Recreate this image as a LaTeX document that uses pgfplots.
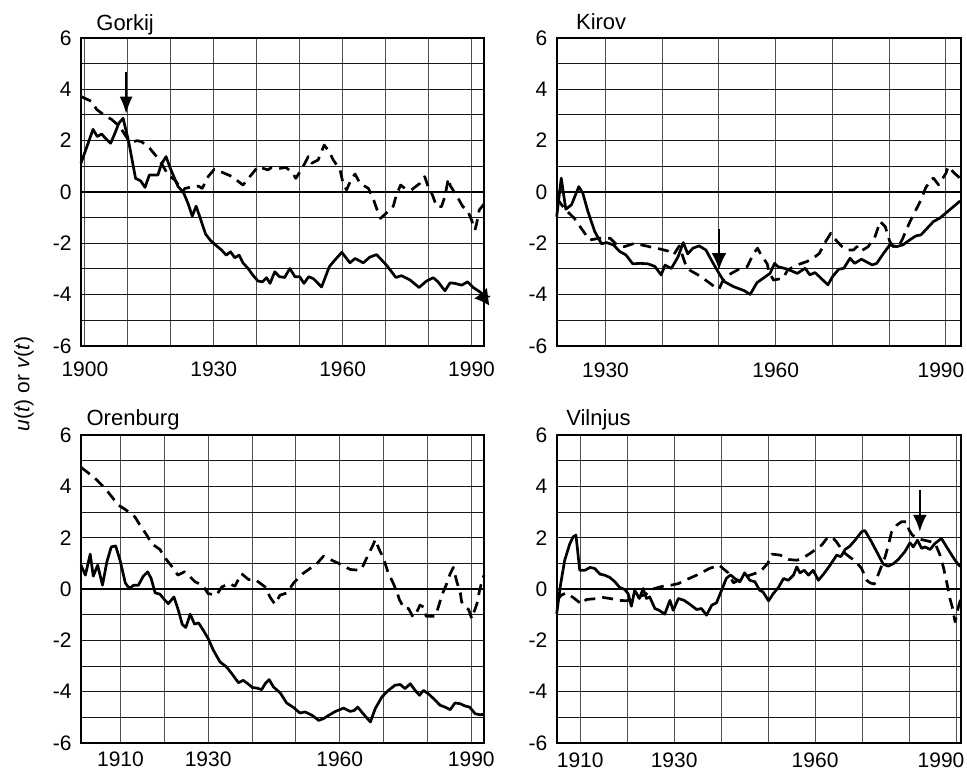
\documentclass[border=0pt]{standalone}
\usepackage{fontspec}
\setmainfont{Liberation Sans}
\usepackage{pgfplots}
\pgfplotsset{compat=1.18}
\usetikzlibrary{arrows.meta}

\tikzset{
  ttl/.style={anchor=base west, inner sep=0pt, font=\fontsize{11}{13}\selectfont},
  sol/.style={black, line width=1.35pt, line join=round},
  das/.style={black, line width=1.35pt, line join=round, dash pattern=on 5.5pt off 3.5pt},
  zero/.style={black, line width=1pt},
  arr/.style={black, line width=1pt, -{Latex[length=8.5pt,width=6.5pt]}},
}
\pgfplotsset{
  panel/.style={
    scale only axis, width=202pt, height=154pt,
    anchor=south west,
    ymin=-6, ymax=6,
    ytick={-6,-4,...,6},
    minor ytick={-5,-3,...,5},
    grid=both,
    x grid style={black!68, line width=0.5pt},
    y grid style={black!90, line width=0.5pt},
    major tick length=0pt, minor tick length=0pt,
    axis line style={black, line width=1.1pt},
    tick label style={font=\fontsize{10.5}{12}\selectfont},
    /pgf/number format/assume math mode=true,
    yticklabel style={xshift=-1.2pt},
    clip=false,
  },
}

\begin{document}
\begin{tikzpicture}
\path[use as bounding box] (0,0) rectangle (483.5pt,387pt);

% ---------------- Gorkij ----------------
\begin{axis}[panel, at={(40.5pt,214pt)}, width=201.5pt,
  xmin=1899.1, xmax=1992.9,
  xtick={1900,1930,1960,1990}, xticklabels={1900,1930,1960,1990},
  minor xtick={1910,1920,1940,1950,1970,1980},
  xticklabel style={yshift=-4.5pt}]
\addplot[zero, forget plot] coordinates {(1899.1,0) (1992.9,0)};
\addplot[das] coordinates {
(1899.1,3.72) (1901.7,3.52) (1902.7,3.22) (1904.8,2.96) (1906.2,2.83) (1908.1,2.55)
(1910.1,2.03) (1911.2,1.96) (1912.2,2.00) (1913.2,1.96) (1915.1,1.70) (1916.7,1.38)
(1917.8,1.12) (1919.4,0.66) (1920.9,0.47) (1922.1,0.21) (1922.6,0.00) (1923.3,0.14)
(1925.2,0.21) (1926.4,0.23) (1927.3,0.14) (1928.7,0.60) (1930.1,0.88) (1932.2,0.75)
(1934.3,0.60) (1936.8,0.27) (1938.7,0.66) (1940.3,0.99) (1942.6,0.86) (1943.4,0.95)
(1945.4,0.92) (1946.8,0.96) (1948.4,0.73) (1949.1,0.53) (1950.8,0.99) (1952.0,1.38)
(1952.8,1.12) (1954.3,1.25) (1955.7,1.83) (1956.9,1.57) (1957.8,1.25) (1959.4,0.86)
(1960.1,0.34) (1960.9,0.08) (1962.1,0.53) (1962.9,0.70) (1964.0,0.34) (1966.0,0.14)
(1967.1,-0.25) (1967.9,-0.64) (1968.8,-1.03) (1970.1,-0.83) (1971.8,-0.55) (1972.5,-0.12)
(1973.5,0.27) (1974.5,0.14) (1976.0,0.08) (1978.0,0.34) (1979.1,0.60) (1979.9,0.21)
(1980.9,-0.12) (1981.9,-0.57) (1983.0,-0.57) (1983.8,-0.18) (1984.6,0.53) (1985.1,0.23)
(1985.7,0.08) (1986.5,-0.18) (1987.1,-0.31) (1987.9,-0.55) (1989.2,-0.77) (1990.0,-1.09)
(1990.8,-1.48) (1991.2,-1.22) (1991.8,-0.70) (1992.9,-0.47)};
\addplot[sol] coordinates {
(1899.1,1.12) (1901.9,2.44) (1902.9,2.16) (1903.9,2.26) (1904.8,2.09) (1906.0,1.90)
(1907.0,2.29) (1907.9,2.68) (1908.9,2.87) (1910.2,1.96) (1911.8,0.53) (1913.0,0.43)
(1914.0,0.18) (1915.0,0.66) (1916.0,0.66) (1917.0,0.66) (1917.8,1.08) (1918.9,1.38)
(1919.8,0.96) (1920.7,0.60) (1921.7,0.21) (1922.9,0.00) (1924.0,-0.44) (1925.0,-0.94)
(1925.9,-0.55) (1927.0,-1.09) (1928.1,-1.64) (1929.3,-1.90) (1930.6,-2.09) (1931.8,-2.26)
(1932.9,-2.46) (1933.9,-2.33) (1934.9,-2.56) (1935.9,-2.46) (1936.8,-2.76) (1938.0,-2.98)
(1939.1,-3.24) (1940.3,-3.47) (1941.3,-3.50) (1942.3,-3.34) (1943.1,-3.56) (1944.2,-3.11)
(1945.3,-3.30) (1946.5,-3.33) (1947.7,-2.98) (1948.9,-3.30) (1950.0,-3.30) (1951.0,-3.56)
(1952.1,-3.30) (1953.2,-3.38) (1955.1,-3.70) (1956.9,-2.91) (1958.2,-2.65) (1959.8,-2.35)
(1961.7,-2.76) (1962.9,-2.59) (1964.8,-2.76) (1966.3,-2.54) (1967.9,-2.44) (1970.2,-2.85)
(1972.4,-3.33) (1973.7,-3.26) (1975.7,-3.43) (1977.8,-3.72) (1979.5,-3.47) (1981.1,-3.34)
(1982.2,-3.50) (1983.8,-3.85) (1985.0,-3.54) (1986.1,-3.56) (1987.7,-3.63) (1989.1,-3.50)
(1990.4,-3.72) (1991.9,-3.89) (1992.9,-4.02)};
\addplot[arr] coordinates {(1909.6,4.69) (1909.6,3.05)};
\addplot[black, line width=0.8pt, -{Latex[length=7pt,width=9pt]}] coordinates {(1994.3,-4.07) (1990.6,-4.15)};
\node[ttl, xshift=7.5pt, yshift=4pt] at (rel axis cs:0,1) {Gorkij};
\end{axis}

% ---------------- Kirov ----------------
\begin{axis}[panel, at={(278.35pt,214pt)},
  xmin=1921.4, xmax=1992.6,
  xtick={1930,1960,1990}, xticklabels={1930,1960,\hspace*{-5pt}1990},
  minor xtick={1940,1950,1970,1980},
  xticklabel style={yshift=-5pt}]
\addplot[zero, forget plot] coordinates {(1921.4,0) (1992.6,0)};
\addplot[das] coordinates {
(1921.4,-0.24) (1922.7,-0.63) (1923.6,-0.83) (1924.5,-1.02) (1925.7,-1.41) (1927.2,-1.87)
(1929.0,-1.80) (1930.8,-1.80) (1932.0,-2.06) (1933.3,-2.13) (1935.1,-2.00) (1936.3,-2.06)
(1938.1,-2.15) (1939.8,-2.23) (1941.0,-2.30) (1942.0,-2.45) (1943.0,-2.10) (1944.0,-2.76)
(1944.8,-3.04) (1946.3,-3.23) (1948.0,-3.49) (1949.2,-3.69) (1950.0,-3.79) (1950.6,-3.49)
(1951.7,-3.23) (1953.8,-2.97) (1955.0,-2.90) (1956.1,-2.39) (1956.8,-2.19) (1957.4,-2.45)
(1958.5,-2.80) (1958.8,-3.10) (1959.6,-3.43) (1961.3,-3.36) (1962.1,-3.04) (1963.8,-2.84)
(1965.5,-2.71) (1966.6,-2.58) (1967.7,-2.39) (1968.6,-2.00) (1969.7,-1.61) (1970.3,-1.80)
(1971.7,-2.13) (1972.6,-2.26) (1973.7,-2.26) (1974.3,-2.13) (1974.9,-2.32) (1976.3,-2.13)
(1977.5,-1.74) (1978.4,-1.15) (1979.3,-1.35) (1980.1,-1.93) (1980.7,-2.13) (1981.8,-2.06)
(1982.4,-1.80) (1983.0,-1.48) (1983.8,-1.09) (1985.0,-0.57) (1985.6,-0.31) (1986.4,0.15)
(1987.3,0.47) (1987.8,0.54) (1988.7,0.28) (1990.0,0.73) (1990.4,0.99) (1991.5,0.73)
(1992.5,0.54)};
\addplot[sol] coordinates {
(1921.4,-0.96) (1922.2,0.54) (1923.0,-0.67) (1924.0,-0.50) (1925.3,0.21) (1926.0,-0.05)
(1926.9,-0.76) (1928.1,-1.54) (1929.3,-2.02) (1930.2,-1.97) (1931.4,-2.06) (1932.5,-2.32)
(1933.6,-2.45) (1934.8,-2.80) (1936.1,-2.78) (1937.5,-2.80) (1938.7,-2.90) (1939.8,-3.23)
(1940.5,-2.85) (1941.6,-2.98) (1942.8,-2.52) (1943.7,-1.97) (1944.5,-2.41) (1945.4,-2.19)
(1946.5,-2.10) (1947.7,-2.26) (1948.8,-2.71) (1950.0,-3.17) (1950.9,-3.49) (1952.6,-3.69)
(1954.4,-3.84) (1955.5,-3.99) (1956.7,-3.53) (1957.8,-3.36) (1959.0,-3.17) (1959.8,-2.78)
(1960.4,-2.91) (1962.1,-3.01) (1963.8,-3.17) (1965.2,-2.97) (1966.0,-3.23) (1966.9,-3.14)
(1967.7,-3.30) (1969.2,-3.62) (1970.0,-3.30) (1971.1,-3.01) (1972.0,-2.97) (1973.1,-2.58)
(1973.9,-2.78) (1975.1,-2.62) (1977.0,-2.84) (1977.8,-2.78) (1979.0,-2.39) (1980.1,-2.06)
(1981.3,-2.13) (1982.4,-2.06) (1983.6,-1.87) (1984.7,-1.71) (1985.6,-1.67) (1986.4,-1.48)
(1987.8,-1.15) (1988.9,-1.02) (1991.0,-0.63) (1992.5,-0.35)};
\addplot[arr, -{Latex[length=8.5pt,width=7.5pt]}] coordinates {(1950.0,-1.45) (1950.0,-3.04)};
\node[ttl, xshift=9.5pt, yshift=4.3pt] at (rel axis cs:0,1) {Kirov};
\end{axis}

% ---------------- Orenburg ----------------
\begin{axis}[panel, at={(40.5pt,15.5pt)}, width=201.5pt,
  xmin=1901, xmax=1992.9,
  xtick={1910,1930,1960,1990}, xticklabels={1910,1930,1960,1990},
  minor xtick={1920,1940,1950,1970,1980},
  xticklabel style={yshift=-1pt}]
\addplot[zero, forget plot] coordinates {(1901,0) (1992.9,0)};
\addplot[das] coordinates {
(1901.0,4.74) (1903.3,4.44) (1904.6,4.25) (1906.5,3.92) (1908.0,3.60) (1909.5,3.27)
(1911.1,3.10) (1913.3,2.81) (1914.3,2.53) (1916.0,2.10) (1917.1,1.77) (1919.0,1.54)
(1920.0,1.25) (1921.8,0.86) (1923.1,0.54) (1924.6,0.67) (1925.9,0.47) (1927.0,0.28)
(1928.7,0.15) (1930.0,-0.18) (1931.9,-0.24) (1933.1,0.08) (1934.8,0.21) (1936.1,0.11)
(1937.6,0.60) (1939.2,0.37) (1940.7,0.37) (1943.0,0.08) (1944.1,-0.31) (1945.2,-0.59)
(1946.4,-0.24) (1948.0,-0.15) (1949.5,0.24) (1951.6,0.60) (1952.9,0.76) (1954.8,0.99)
(1956.3,1.28) (1958.2,1.12) (1960.1,0.97) (1962.4,0.76) (1964.7,0.73) (1965.4,0.93)
(1966.6,1.38) (1967.6,1.71) (1968.1,1.93) (1968.9,1.58) (1970.0,1.19) (1971.1,0.60)
(1971.9,0.34) (1972.9,-0.05) (1973.6,-0.41) (1974.7,-0.76) (1975.7,-0.76) (1976.7,-1.09)
(1977.4,-0.96) (1978.3,-0.63) (1979.1,-0.70) (1979.7,-1.06) (1981.8,-1.06) (1982.5,-0.70)
(1983.3,-0.24) (1984.4,0.21) (1985.2,0.60) (1985.9,0.84) (1986.7,0.28) (1987.5,-0.15)
(1987.8,-0.50) (1988.6,-0.70) (1989.4,-0.80) (1990.1,-1.15) (1990.5,-0.96) (1991.3,-0.57)
(1991.9,-0.05) (1992.4,0.28) (1992.9,0.54)};
\addplot[sol] coordinates {
(1901.0,0.93) (1902.0,0.54) (1903.1,1.36) (1903.8,0.50) (1904.8,0.93) (1905.9,0.15)
(1906.9,1.06) (1907.9,1.64) (1908.9,1.68) (1909.9,1.12) (1911.1,0.24) (1912.0,0.02)
(1913.0,0.15) (1914.1,0.15) (1915.2,0.50) (1916.2,0.67) (1917.0,0.41) (1917.9,-0.15)
(1919.0,-0.20) (1920.0,-0.41) (1920.9,-0.57) (1922.2,-0.31) (1923.2,-0.83) (1924.1,-1.38)
(1924.9,-1.50) (1925.9,-0.98) (1926.9,-1.37) (1927.8,-1.32) (1928.9,-1.61) (1930.0,-1.93)
(1931.2,-2.39) (1932.7,-2.84) (1934.2,-3.04) (1935.4,-3.30) (1936.9,-3.65) (1938.0,-3.56)
(1939.2,-3.71) (1940.1,-3.84) (1941.1,-3.86) (1942.2,-3.92) (1943.0,-3.69) (1943.9,-3.53)
(1944.9,-3.82) (1946.4,-4.04) (1947.9,-4.44) (1949.5,-4.62) (1950.9,-4.83) (1952.1,-4.79)
(1953.7,-4.92) (1955.2,-5.12) (1956.3,-5.05) (1957.5,-4.92) (1959.0,-4.77) (1960.9,-4.64)
(1962.4,-4.77) (1963.3,-4.73) (1964.1,-4.60) (1965.3,-4.85) (1966.0,-4.99) (1967.0,-5.18)
(1968.1,-4.66) (1969.6,-4.21) (1971.1,-3.95) (1972.6,-3.75) (1973.8,-3.72) (1974.9,-3.88)
(1976.1,-3.69) (1977.2,-3.95) (1978.2,-4.14) (1979.1,-3.95) (1980.2,-4.08) (1981.4,-4.27)
(1982.9,-4.53) (1984.0,-4.60) (1985.2,-4.70) (1986.3,-4.44) (1987.5,-4.47) (1988.6,-4.56)
(1989.6,-4.60) (1990.9,-4.86) (1992.0,-4.90) (1992.9,-4.88)};
\node[ttl, xshift=2.6pt, yshift=5pt] at (rel axis cs:0,1) {Orenburg};
\end{axis}

% ---------------- Vilnjus ----------------
\begin{axis}[panel, at={(278.35pt,15.5pt)},
  xmin=1905, xmax=1991,
  xtick={1910,1930,1960,1990}, xticklabels={1910,1930,1960,\hspace*{-15pt}1990},
  minor xtick={1920,1940,1950,1970,1980},
  xticklabel style={yshift=-1.5pt}]
\addplot[zero, forget plot] coordinates {(1905,0) (1991,0)};
\addplot[das] coordinates {
(1905.0,-0.44) (1906.0,-0.24) (1907.0,-0.15) (1908.5,-0.33) (1910.3,-0.59) (1911.3,-0.41)
(1913.1,-0.38) (1914.9,-0.33) (1916.7,-0.38) (1918.1,-0.44) (1919.9,-0.46) (1922.0,-0.35)
(1924.0,-0.20) (1925.5,0.00) (1926.6,0.06) (1927.7,0.11) (1929.4,0.15) (1930.9,0.21)
(1932.3,0.34) (1933.7,0.45) (1934.8,0.54) (1936.2,0.67) (1937.5,0.80) (1939.6,0.93)
(1940.4,0.80) (1941.5,0.63) (1942.6,0.24) (1944.0,0.37) (1945.5,0.50) (1946.8,0.58)
(1948.3,0.67) (1949.9,0.99) (1950.8,1.36) (1952.6,1.32) (1954.3,1.15) (1956.1,1.12)
(1957.2,1.19) (1958.9,1.38) (1960.4,1.58) (1961.4,1.71) (1962.5,1.97) (1963.5,2.05)
(1964.5,1.85) (1966.0,1.45) (1967.1,1.28) (1968.5,1.10) (1969.9,0.80) (1971.0,0.34)
(1971.7,0.24) (1972.6,0.19) (1973.1,0.41) (1973.8,0.73) (1974.9,1.25) (1975.6,1.71)
(1976.3,2.23) (1977.4,2.49) (1978.4,2.62) (1979.5,2.62) (1980.0,2.30) (1980.7,2.10)
(1982.0,1.95) (1984.0,1.87) (1985.5,1.80) (1986.6,1.32) (1987.3,0.86) (1988.0,0.28)
(1988.7,-0.37) (1989.2,-0.70) (1989.8,-1.28) (1990.6,-0.63) (1991.0,-0.40)};
\addplot[sol] coordinates {
(1905.0,-0.96) (1905.8,0.15) (1906.7,1.12) (1907.8,1.77) (1908.5,2.03) (1909.1,2.10)
(1909.9,0.73) (1911.0,0.73) (1912.1,0.84) (1913.1,0.80) (1914.2,0.58) (1915.2,0.54)
(1916.3,0.45) (1917.4,0.28) (1918.4,0.06) (1919.5,-0.02) (1920.2,-0.18) (1920.9,-0.67)
(1921.6,-0.05) (1922.6,-0.37) (1923.4,0.02) (1924.1,-0.37) (1924.8,-0.31) (1925.9,-0.76)
(1926.8,-0.83) (1928.0,-0.98) (1929.1,-0.44) (1929.8,-0.83) (1930.9,-0.37) (1932.1,-0.44)
(1933.3,-0.59) (1934.8,-0.80) (1935.8,-0.76) (1936.9,-1.02) (1938.0,-0.63) (1939.0,-0.54)
(1940.1,-0.05) (1941.1,0.41) (1942.0,0.55) (1942.9,0.41) (1944.0,0.28) (1945.0,0.63)
(1946.1,0.34) (1947.2,0.28) (1948.2,-0.05) (1948.9,-0.11) (1950.1,-0.46) (1951.1,-0.18)
(1952.2,0.06) (1953.3,0.41) (1954.3,0.34) (1955.4,0.54) (1956.1,0.86) (1956.8,0.63)
(1957.7,0.73) (1958.6,0.54) (1959.6,0.73) (1960.7,0.34) (1961.8,0.58) (1963.2,0.93)
(1964.6,1.32) (1965.5,1.26) (1966.4,1.54) (1967.4,1.67) (1968.5,1.90) (1969.9,2.23)
(1970.6,2.28) (1972.0,1.84) (1973.5,1.32) (1974.5,0.97) (1975.6,0.89) (1976.7,0.99)
(1977.7,1.15) (1979.1,1.45) (1980.2,1.80) (1980.9,1.64) (1981.8,1.90) (1982.7,1.58)
(1983.4,1.64) (1984.5,1.54) (1985.5,1.77) (1986.9,1.97) (1988.0,1.64) (1989.1,1.32)
(1989.8,1.12) (1990.6,0.93) (1991.0,0.88)};
\addplot[arr, -{Latex[length=8.5pt,width=7pt]}] coordinates {(1982.3,3.86) (1982.3,2.23)};
\node[ttl, xshift=4.6pt, yshift=5pt] at (rel axis cs:0,1) {Vilnjus};
\end{axis}

\node[rotate=90, font=\fontsize{10.5}{12}\selectfont] at (12pt,195pt)
  {\textit{u}(\textit{t}) or \textit{v}(\textit{t})};
\end{tikzpicture}
\end{document}
